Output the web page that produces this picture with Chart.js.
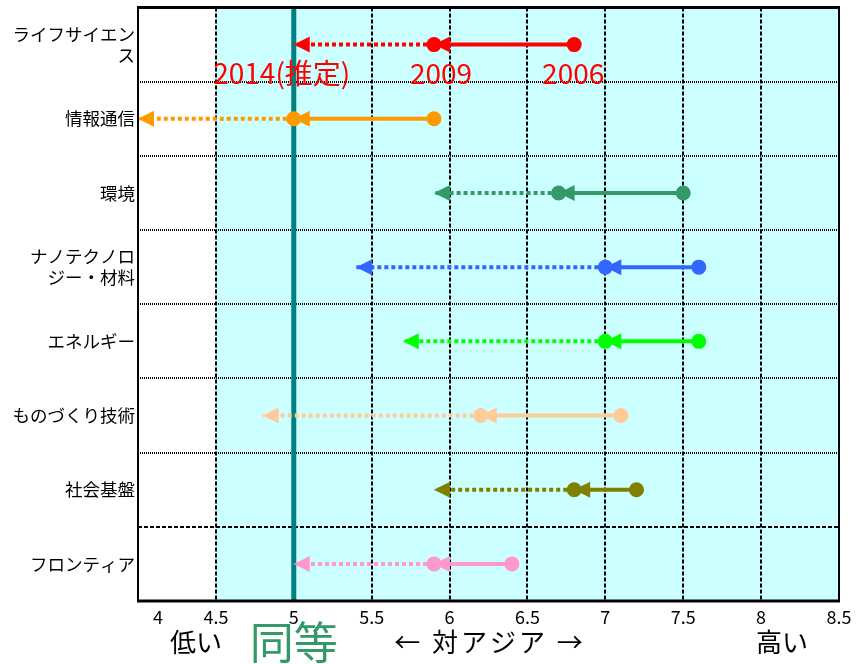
<!DOCTYPE html>
<html>
<head>
<meta charset="utf-8">
<script src="https://cdn.jsdelivr.net/npm/chart.js@4.4.1/dist/chart.umd.min.js"></script>
<style>
  html, body { margin: 0; padding: 0; background: #fff; }
  canvas { display: block; }
</style>
</head>
<body>
<canvas id="c" width="866" height="664" style="width:866px;height:664px"></canvas>
<script>
// Fields (rows, top to bottom)
const categories = [
  ['ライフサイエン', 'ス'],
  '情報通信',
  '環境',
  ['ナノテクノロ', 'ジー・材料'],
  'エネルギー',
  'ものづくり技術',
  '社会基盤',
  'フロンティア'
];

// Level relative to Asia in each survey year
const v2006 = [6.8, 5.9, 7.5, 7.6, 7.6, 7.1, 7.2, 6.4];
const v2009 = [5.9, 5.0, 6.7, 7.0, 7.0, 6.2, 6.8, 5.9];
const v2014 = [5.0, 4.0, 5.9, 5.4, 5.7, 4.8, 5.9, 5.0]; // estimate

const rowColors = ['#FF0000', '#FF9900', '#339966', '#3366FF', '#00FF00', '#FFCC99', '#808000', '#FF99CC'];

// Axis
const xTicks = ['4', '4.5', '5', '5.5', '6', '6.5', '7', '7.5', '8', '8.5'];
const xMin = 4, xMax = 8.5;
const parity = 5;        // "同等" line
const shadeFrom = 4.5;   // pale band starts here

const yearLabels = ['2014(推定)', '2009', '2006'];
const bottomTexts = ['低い', '同等', '← 対アジア →', '高い'];

const FONT = '"Noto Sans CJK JP", "Noto Sans", sans-serif';

// Build one solid (2006→2009) and one dotted (2009→2014) dataset per row
const datasets = [];
categories.forEach((c, i) => {
  datasets.push({
    data: [{ x: v2006[i], y: i }, { x: v2009[i], y: i }],
    borderColor: rowColors[i],
    backgroundColor: rowColors[i],
    borderWidth: 4,
    pointRadius: 7.5,
    pointBorderWidth: 0,
    pointBackgroundColor: rowColors[i],
    showLine: true,
    order: 0
  });
  datasets.push({
    data: [{ x: v2009[i], y: i }, { x: v2014[i], y: i }],
    borderColor: rowColors[i],
    borderWidth: 4,
    borderDash: [4, 3],
    borderCapStyle: 'butt',
    pointRadius: 0,
    showLine: true,
    order: 1
  });
});

const backdrop = {
  id: 'backdrop',
  beforeDatasetsDraw(chart) {
    const { ctx, chartArea: a, scales: { x, y } } = chart;
    ctx.save();
    const xs = x.getPixelForValue(shadeFrom);
    ctx.fillStyle = '#FFFFFF';
    ctx.fillRect(a.left, a.top, xs - a.left, a.bottom - a.top);
    ctx.fillStyle = '#CCFFFF';
    ctx.fillRect(xs, a.top, a.right - xs, a.bottom - a.top);

    // row separators
    ctx.strokeStyle = '#000';
    ctx.lineWidth = 2;
    for (let i = 0; i < categories.length - 1; i++) {
      const py = Math.round(y.getPixelForValue(i + 0.5));
      ctx.setLineDash(i === categories.length - 2 ? [4, 2] : [1, 1]);
      ctx.beginPath();
      ctx.moveTo(a.left, py);
      ctx.lineTo(a.right, py);
      ctx.stroke();
    }

    // vertical grid
    ctx.setLineDash([4, 2]);
    xTicks.forEach(t => {
      const v = parseFloat(t);
      if (v <= xMin || v >= xMax) return;
      const px = Math.round(x.getPixelForValue(v));
      ctx.beginPath();
      ctx.moveTo(px, a.top);
      ctx.lineTo(px, a.bottom);
      ctx.stroke();
    });

    // parity line
    ctx.setLineDash([]);
    ctx.strokeStyle = '#008080';
    ctx.lineWidth = 5;
    const pp = x.getPixelForValue(parity);
    ctx.beginPath();
    ctx.moveTo(pp, a.top);
    ctx.lineTo(pp, a.bottom);
    ctx.stroke();
    ctx.restore();
  },
  afterDatasetsDraw(chart) {
    const { ctx, chartArea: a } = chart;
    ctx.save();
    // left-pointing arrowheads with the tip on the point
    const head = (p, color) => {
      ctx.fillStyle = color;
      ctx.beginPath();
      ctx.moveTo(p.x, p.y);
      ctx.lineTo(p.x + 16, p.y - 8);
      ctx.lineTo(p.x + 16, p.y + 8);
      ctx.closePath();
      ctx.fill();
    };
    categories.forEach((c, i) => {
      const solid = chart.getDatasetMeta(2 * i).data;
      const dotted = chart.getDatasetMeta(2 * i + 1).data;
      head(solid[1], rowColors[i]);
      head(dotted[1], rowColors[i]);
    });

    // frame
    ctx.strokeStyle = '#000';
    ctx.lineWidth = 3;
    ctx.beginPath();
    ctx.moveTo(a.left - 1, a.top);
    ctx.lineTo(a.right + 1, a.top);
    ctx.moveTo(a.left - 1, a.bottom);
    ctx.lineTo(a.right + 1, a.bottom);
    ctx.stroke();
    ctx.lineWidth = 2;
    ctx.beginPath();
    ctx.moveTo(a.left, a.top);
    ctx.lineTo(a.left, a.bottom);
    ctx.moveTo(a.right, a.top);
    ctx.lineTo(a.right, a.bottom);
    ctx.stroke();
    ctx.restore();
  },
  afterDraw(chart) {
    const { ctx, chartArea: a, scales: { x, y } } = chart;
    ctx.save();
    ctx.textBaseline = 'middle';
    ctx.textAlign = 'center';

    // year labels under the first row
    const ry = y.getPixelForValue(0) + 29;
    ctx.fillStyle = '#FF0000';
    ctx.font = '28px ' + FONT;
    ctx.fillText(yearLabels[0], x.getPixelForValue(v2014[0]) - 12, ry);
    ctx.fillText(yearLabels[1], x.getPixelForValue(v2009[0]) + 7, ry);
    ctx.fillText(yearLabels[2], x.getPixelForValue(v2006[0]) - 1, ry);

    // x tick labels
    ctx.fillStyle = '#000';
    ctx.font = '18px ' + FONT;
    xTicks.forEach((t, i) => {
      let px = x.getPixelForValue(parseFloat(t));
      if (i === 0) px += 20;
      ctx.fillText(t, px, a.bottom + 16);
    });

    // bottom captions
    const by = a.bottom + 41;
    ctx.font = '26px ' + FONT;
    ctx.fillText(bottomTexts[0], 196, by);
    ctx.fillText(bottomTexts[3], 782, by);
    ctx.letterSpacing = '3px';
    ctx.fillText(bottomTexts[2], 490, by);
    ctx.letterSpacing = '0px';
    ctx.fillStyle = '#339966';
    ctx.font = '44px ' + FONT;
    ctx.fillText(bottomTexts[1], x.getPixelForValue(parity), by);
    ctx.restore();
  }
};

new Chart(document.getElementById('c'), {
  type: 'line',
  data: { datasets },
  options: {
    responsive: false,
    animation: false,
    devicePixelRatio: 1,
    events: [],
    layout: { padding: { left: 0, right: 27, top: 6, bottom: 0 } },
    plugins: { legend: { display: false }, tooltip: { enabled: false } },
    scales: {
      x: {
        type: 'linear', min: xMin, max: xMax,
        grid: { display: false, drawTicks: false },
        border: { display: false },
        ticks: { display: false },
        afterFit(s) { s.height = 63; s.paddingLeft = 0; s.paddingRight = 0; }
      },
      y: {
        type: 'linear', reverse: true, min: -0.5, max: categories.length - 0.5,
        grid: { display: false, drawTicks: false },
        border: { display: false },
        afterBuildTicks(s) { s.ticks = categories.map((_, i) => ({ value: i })); },
        ticks: {
          autoSkip: false,
          color: '#000',
          padding: 3,
          font: { family: FONT, size: 17.5, lineHeight: 1.22 },
          callback: v => categories[v]
        },
        afterFit(s) { s.width = 138; s.paddingTop = 0; s.paddingBottom = 0; }
      }
    }
  },
  plugins: [backdrop]
});
</script>
</body>
</html>
